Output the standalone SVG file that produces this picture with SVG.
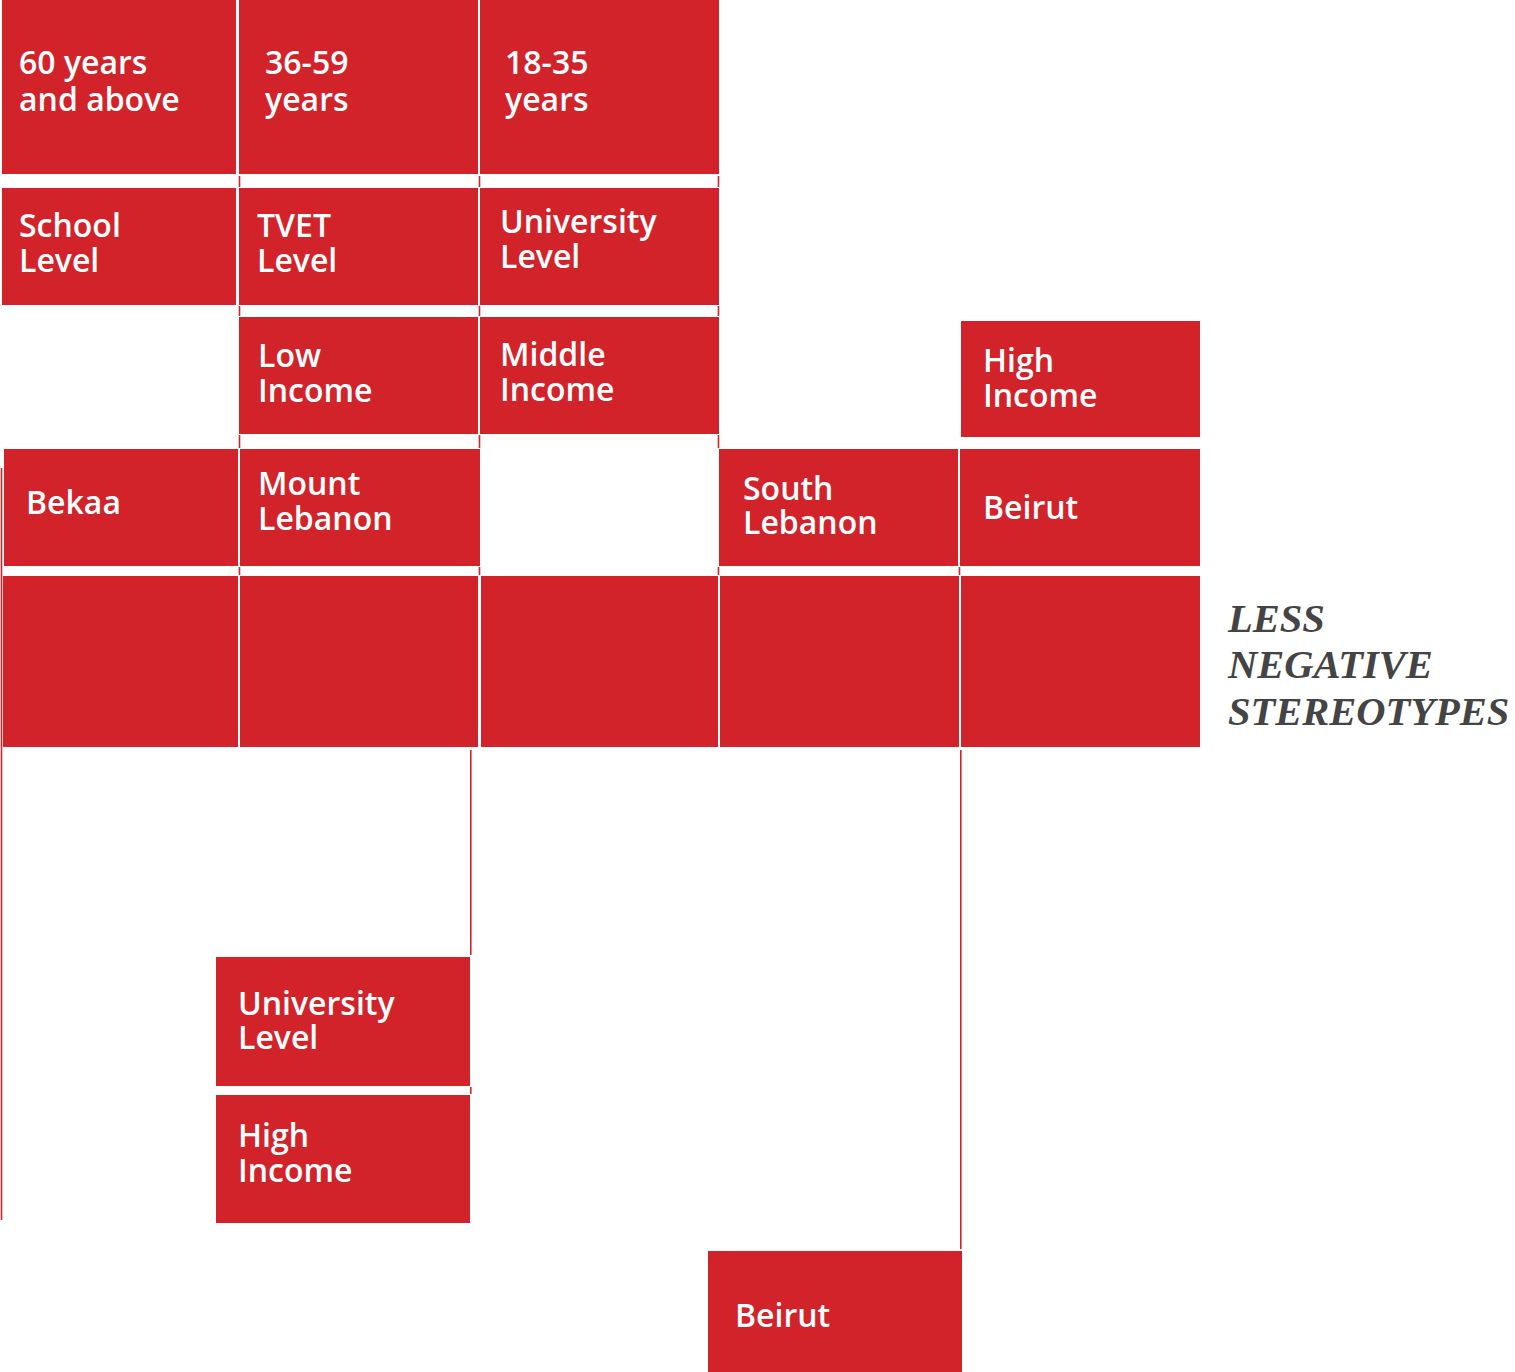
<svg xmlns="http://www.w3.org/2000/svg" width="1515" height="1372" viewBox="0 0 1515 1372">
<style>
.box{fill:#D2232B}
.lbl{fill:#ffffff;font-family:"Open Sans",Lato,"Liberation Sans",sans-serif;font-weight:600;font-size:32px}
.ln{stroke:#D2232B;stroke-width:1.6;fill:none}
.title{fill:#444444;font-family:"Liberation Serif","Times New Roman",serif;font-weight:bold;font-style:italic;font-size:40.5px}
</style>
<rect width="1515" height="1372" fill="#ffffff"/>
<g id="connectors">
<path class="ln" d="M1.5,468V1220 M470.8,750V955 M470.8,1087V1094 M960.8,750V1249"/>
<path class="ln" d="M239.5,176V187 M479.5,176V187 M718.5,176V187 M239.5,306V316 M479.5,306V316 M718.5,306V316 M239.5,435V448 M479.5,435V448 M718.5,435V448 M239.5,567V575 M479.5,567V575 M718.5,567V575 M959.5,567V575"/>
</g>
<g id="age60"><rect class="box" x="2" y="0" width="234" height="174"/><text class="lbl" x="19" y="74">60 years</text><text class="lbl" x="19" y="111">and above</text></g>
<g id="age3659"><rect class="box" x="239" y="0" width="239" height="174"/><text class="lbl" x="265" y="74">36-59</text><text class="lbl" x="265" y="111">years</text></g>
<g id="age1835"><rect class="box" x="480" y="0" width="239" height="174"/><text class="lbl" x="505" y="74">18-35</text><text class="lbl" x="505" y="111">years</text></g>
<g id="school"><rect class="box" x="2" y="188" width="234" height="117"/><text class="lbl" x="19" y="237">School</text><text class="lbl" x="19" y="272">Level</text></g>
<g id="tvet"><rect class="box" x="239" y="188" width="239" height="117"/><text class="lbl" x="257" y="237">TVET</text><text class="lbl" x="257" y="272">Level</text></g>
<g id="university1"><rect class="box" x="480" y="188" width="239" height="117"/><text class="lbl" x="500" y="233">University</text><text class="lbl" x="500" y="268">Level</text></g>
<g id="lowincome"><rect class="box" x="239" y="317" width="239" height="117"/><text class="lbl" x="258" y="367">Low</text><text class="lbl" x="258" y="402">Income</text></g>
<g id="middleincome"><rect class="box" x="480" y="317" width="239" height="117"/><text class="lbl" x="500" y="366">Middle</text><text class="lbl" x="500" y="401">Income</text></g>
<g id="highincome1"><rect class="box" x="961" y="321" width="239" height="116"/><text class="lbl" x="983" y="372">High</text><text class="lbl" x="983" y="407">Income</text></g>
<g id="bekaa"><rect class="box" x="4" y="449" width="234" height="117"/><text class="lbl" x="26" y="514">Bekaa</text></g>
<g id="mountlebanon"><rect class="box" x="240" y="449" width="240" height="117"/><text class="lbl" x="258" y="495">Mount</text><text class="lbl" x="258" y="530">Lebanon</text></g>
<g id="southlebanon"><rect class="box" x="719" y="449" width="239" height="117"/><text class="lbl" x="743" y="500">South</text><text class="lbl" x="743" y="534">Lebanon</text></g>
<g id="beirut1"><rect class="box" x="960" y="449" width="240" height="117"/><text class="lbl" x="983" y="519">Beirut</text></g>
<g id="base1"><rect class="box" x="3" y="576" width="235" height="171"/></g>
<g id="base2"><rect class="box" x="240" y="576" width="238" height="171"/></g>
<g id="base3"><rect class="box" x="481" y="576" width="237" height="171"/></g>
<g id="base4"><rect class="box" x="720" y="576" width="239" height="171"/></g>
<g id="base5"><rect class="box" x="961" y="576" width="239" height="171"/></g>
<g id="lessnegative"><text class="title" x="1228" y="632">LESS</text><text class="title" x="1228" y="678">NEGATIVE</text><text class="title" x="1228" y="725">STEREOTYPES</text></g>
<g id="university2"><rect class="box" x="216" y="957" width="254" height="129"/><text class="lbl" x="238" y="1015">University</text><text class="lbl" x="238" y="1049">Level</text></g>
<g id="highincome2"><rect class="box" x="216" y="1095" width="254" height="128"/><text class="lbl" x="238" y="1147">High</text><text class="lbl" x="238" y="1182">Income</text></g>
<g id="beirut2"><rect class="box" x="708" y="1251" width="254" height="121"/><text class="lbl" x="735" y="1327">Beirut</text></g>
</svg>
